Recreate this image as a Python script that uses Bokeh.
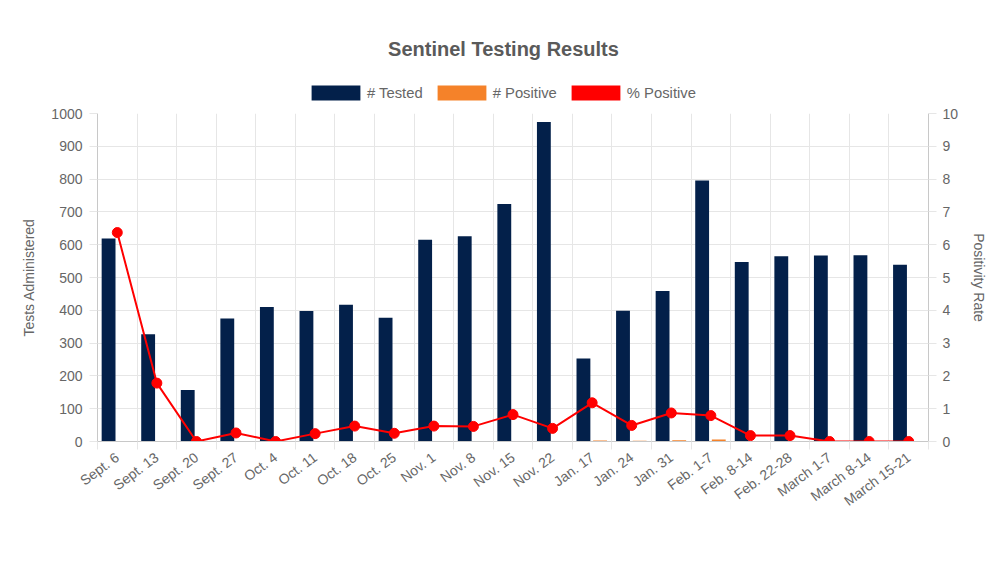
from bokeh.plotting import figure
from bokeh.layouts import column
from bokeh.models import (Range1d, LinearAxis, FixedTicker, Legend, LegendItem,
                          ColumnDataSource, Label)
from bokeh.transform import dodge
from bokeh.embed import file_html
from bokeh.resources import INLINE

NAN = float("nan")

title_text = "Sentinel Testing Results"
weeks = ["Sept. 6", "Sept. 13", "Sept. 20", "Sept. 27", "Oct. 4", "Oct. 11",
         "Oct. 18", "Oct. 25", "Nov. 1", "Nov. 8", "Nov. 15", "Nov. 22",
         "Jan. 17", "Jan. 24", "Jan. 31", "Feb. 1-7", "Feb. 8-14",
         "Feb. 22-28", "March 1-7", "March 8-14", "March 15-21"]
tested = [619, 327, 157, 375, 410, 398, 417, 377, 615, 626, 724, 974,
          253, 399, 459, 796, 547, 565, 567, 568, 539]
positive = [NAN, NAN, NAN, NAN, NAN, NAN, NAN, NAN, NAN, NAN, NAN, NAN,
            3, 2, 4, 6, 1, 1, 0, 0, 0]
pct_positive = [6.37, 1.78, 0, 0.26, 0, 0.24, 0.47, 0.25, 0.47, 0.46, 0.82,
                0.40, 1.18, 0.49, 0.87, 0.79, 0.18, 0.18, 0, 0, 0]
left_ticks = list(range(0, 1001, 100))
right_ticks = list(range(0, 11))
series_names = ["# Tested", "# Positive", "% Positive"]

FONT = "Liberation Sans"
TXT = "#666666"
GRID = "#e6e6e6"
AXIS = "#c8c8c8"
NAVY = "#03204a"
ORANGE = "#f58229"
RED = "#ff0000"

W = 996
HEAD_H = 103
MAIN_H = 445

n = len(weeks)
centers = [i + 0.5 for i in range(n)]
bounds = list(range(n + 1))

src = ColumnDataSource(dict(x=centers, tested=tested, positive=positive,
                            pct=pct_positive))

# ---------------- header: title + legend ----------------
head = figure(width=W, height=HEAD_H, x_range=Range1d(0, n),
              y_range=Range1d(0, 1000), output_backend="svg",
              toolbar_location=None, min_border=0)
head.axis.visible = False
head.grid.visible = False
head.outline_line_color = None
head.background_fill_alpha = 0
head.border_fill_alpha = 0

swatch_colors = [NAVY, ORANGE, RED]
swatch_fields = ["tested", "positive", "pct"]
swatches = [head.vbar(x="x", top=f, width=0.35, source=src, fill_color=c,
                      line_color=None, visible=False)
            for f, c in zip(swatch_fields, swatch_colors)]

legend = Legend(items=[LegendItem(label=s, renderers=[r])
                       for s, r in zip(series_names, swatches)],
                orientation="horizontal", location=(208, 1),
                glyph_width=61, glyph_height=19, label_height=19,
                label_standoff=1, spacing=8, padding=0, margin=0,
                border_line_color=None, background_fill_alpha=0,
                inactive_fill_alpha=0,
                label_text_font=FONT, label_text_font_size="14.8px",
                label_text_color=TXT, label_text_baseline="middle")
head.add_layout(legend, "center")

head.add_layout(Label(x=406, y=HEAD_H - 48, x_units="screen", y_units="screen",
                      text=title_text, text_align="center",
                      text_baseline="middle", text_font=FONT,
                      text_font_size="20px", text_font_style="bold",
                      text_color="#5a5a5a"))

# ---------------- main chart ----------------
p = figure(width=W, height=MAIN_H, x_range=Range1d(0, n),
           y_range=Range1d(0, 1000), output_backend="svg",
           toolbar_location=None,
           min_border_left=97, min_border_right=68, min_border_top=10,
           min_border_bottom=107)
p.extra_y_ranges = {"pct": Range1d(0, 10)}
p.outline_line_color = None

p.vbar(x=dodge("x", -0.22), top="tested", width=0.35, source=src,
       fill_color=NAVY, line_color=None)
p.vbar(x=dodge("x", 0.2), top="positive", width=0.35, source=src,
       fill_color=ORANGE, line_color=None)
p.line(x="x", y="pct", source=src, y_range_name="pct", line_color=RED,
       line_width=2)
p.scatter(x="x", y="pct", source=src, y_range_name="pct", size=10,
          fill_color=RED, line_color=RED)

# x axis
xa = p.xaxis[0]
xa.ticker = FixedTicker(ticks=centers, minor_ticks=bounds)
xa.major_label_overrides = {c: w for c, w in zip(centers, weeks)}
xa.major_tick_out = 0
xa.major_tick_in = 0
xa.minor_tick_out = 8
xa.minor_tick_in = 0
xa.minor_tick_line_color = GRID
xa.axis_line_color = AXIS
xa.major_label_orientation = 0.64
xa.major_label_text_font = FONT
xa.major_label_text_font_size = "14px"
xa.major_label_text_color = TXT
xa.major_label_standoff = 6

# left axis
ya = p.yaxis[0]
ya.ticker = FixedTicker(ticks=left_ticks)
ya.axis_label = "Tests Administered"
ya.major_tick_out = 8
ya.major_tick_in = 0
ya.major_tick_line_color = GRID
ya.minor_tick_line_color = None
ya.axis_line_color = AXIS
ya.major_label_text_font = FONT
ya.major_label_text_font_size = "14px"
ya.major_label_text_color = TXT
ya.major_label_standoff = 7
ya.axis_label_text_font = FONT
ya.axis_label_text_font_size = "14px"
ya.axis_label_text_font_style = "normal"
ya.axis_label_text_color = TXT
ya.axis_label_standoff = 11

ra = LinearAxis(y_range_name="pct", ticker=FixedTicker(ticks=right_ticks),
                axis_label="Positivity Rate")
ra.major_tick_out = 8
ra.major_tick_in = 0
ra.major_tick_line_color = GRID
ra.minor_tick_line_color = None
ra.axis_line_color = AXIS
ra.major_label_text_font = FONT
ra.major_label_text_font_size = "14px"
ra.major_label_text_color = TXT
ra.major_label_standoff = 6
ra.axis_label_text_font = FONT
ra.axis_label_text_font_size = "14px"
ra.axis_label_text_font_style = "normal"
ra.axis_label_text_color = TXT
ra.axis_label_standoff = 10
p.add_layout(ra, "right")

p.xgrid.ticker = FixedTicker(ticks=bounds)
p.xgrid.grid_line_color = GRID
p.ygrid.ticker = FixedTicker(ticks=left_ticks)
p.ygrid.grid_line_color = GRID

layout = column(head, p, spacing=0)
open("out.html", "w").write(file_html(layout, INLINE))
